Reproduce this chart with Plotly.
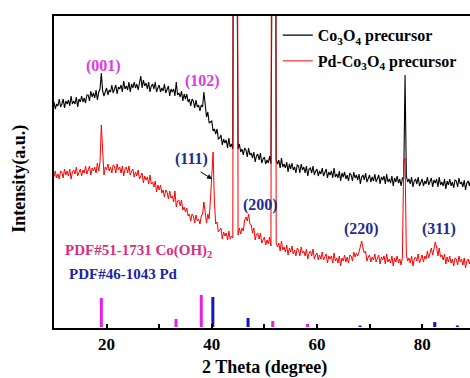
import numpy as np
import plotly.graph_objects as go

# 2-theta scan grid (deg), step 0.25
two_theta = np.round(np.arange(10.0, 90.001, 0.25), 2)

# Co3O4 precursor intensity (a.u.), read row by row (5 deg per row)
co3o4 = (
    [225,218,223,221,228,220,223,228,219,226,223,227,221,231,223,226,223,230,220,228] +
    [225,231,225,229,224,232,232,226,236,230,234,229,237,227,235,238,254,236,231,235] +
    [239,232,237,235,242,234,238,242,233,240,238,242,235,246,238,241,237,245,235,243] +
    [239,245,239,243,237,246,251,239,247,241,244,238,245,235,241,243,238,245,235,239] +
    [242,235,239,236,243,234,237,241,231,238,235,238,231,245,232,234,230,236,226,233] +
    [228,233,225,228,221,228,226,219,227,220,222,216,222,220,235,218,210,215,204,205] +
    [206,196,198,193,198,188,189,192,182,188,184,187,179,189,180,183,178,900,900,900] +
    [178,183,175,178,172,179,177,170,179,172,174,169,175,165,171,173,167,174,164,168] +
    [170,163,167,164,171,163,900,900,900,167,163,167,159,169,160,163,159,165,155,163] +
    [158,164,157,160,154,162,161,154,163,157,160,154,161,151,158,159,154,161,152,156] +
    [158,151,156,153,159,151,154,158,149,155,152,156,149,159,150,153,149,156,146,154] +
    [150,155,148,152,146,154,152,146,155,149,152,147,153,143,150,152,147,154,145,149] +
    [152,145,150,146,153,145,148,152,143,150,147,151,143,153,145,148,144,151,141,149] +
    [145,151,144,148,141,149,148,252,151,145,148,143,150,140,146,148,143,150,141,145] +
    [148,141,146,143,150,142,145,149,140,147,144,148,140,150,142,145,141,148,138,146] +
    [142,148,141,145,139,147,146,140,149,143,145,140,147,137,144,146,141,148,139,143] +
    [143]
)

# Pd-Co3O4 precursor intensity (a.u.)
pd_co3o4 = (
    [150,156,149,153,148,156,155,149,158,152,156,151,158,148,155,157,153,160,151,155] +
    [158,151,157,154,161,153,157,161,152,159,156,160,154,164,156,165,202,170,152,160] +
    [157,163,156,160,154,162,161,154,163,157,160,154,161,151,158,160,154,161,152,156] +
    [158,150,155,151,157,148,151,154,144,151,147,150,143,152,143,145,140,146,135,142] +
    [137,142,134,137,130,137,135,128,136,129,131,125,136,120,126,127,121,127,117,120] +
    [115,119,111,113,106,113,111,104,112,106,108,103,111,113,125,113,104,113,108,128] +
    [150,175,125,103,105,95,97,99,88,95,91,94,87,96,88,91,89,900,900,900] +
    [92,99,93,99,96,107,110,106,113,103,102,94,99,87,93,94,88,94,84,88] +
    [90,82,87,83,90,81,900,900,900,84,80,84,76,86,77,80,75,82,72,79] +
    [75,81,73,77,71,79,77,71,80,74,76,71,78,68,74,76,71,78,68,72] +
    [74,67,72,68,75,67,70,73,64,71,68,71,64,74,66,69,64,71,61,69] +
    [66,72,65,70,64,72,71,66,75,70,74,71,75,80,86,79,74,76,66,70] +
    [72,65,70,67,73,65,68,72,63,70,67,71,63,73,65,68,64,71,61,69] +
    [65,71,64,68,62,70,165,169,72,66,69,64,71,61,68,70,66,73,64,68] +
    [72,65,71,68,76,69,73,79,72,81,85,80,71,79,70,72,67,73,63,70] +
    [65,71,64,68,61,69,68,62,71,65,68,62,69,59,66,68,63,70,61,65] +
    [65]
)

# Reference patterns (stick positions / relative heights)
cooh2_pos = [19.0, 33.2, 38.0, 51.6, 58.2]
cooh2_int = [29, 8, 32, 6, 3]
pd_pos = [40.2, 46.9, 68.2, 82.4, 86.7]
pd_int = [30, 9, 1.5, 5, 1.5]

# Peak labels
hkl_labels = ["(001)", "(102)", "(111)", "(200)", "(220)", "(311)"]
hkl_x = [19.5, 38.3, 36.05, 49.2, 68.4, 83.2]
hkl_y = [261, 246, 168, 122, 98, 98]
hkl_colors = ["#e03ae0", "#e03ae0", "#1f2d8f", "#1f2d8f", "#1f2d8f", "#1f2d8f"]

assert len(co3o4) == len(two_theta) == len(pd_co3o4)

SERIF = "Liberation Serif"

def sticks(pos, h):
    xs, ys = [], []
    for p, v in zip(pos, h):
        xs += [p, p, None]
        ys += [0, v, None]
    return xs, ys

fig = go.Figure()
fig.add_trace(go.Scatter(
    x=two_theta, y=co3o4, mode="lines",
    line=dict(color="black", width=1.1),
    name="Co<sub>3</sub>O<sub>4</sub> precursor", legendgroup="a"))
fig.add_trace(go.Scatter(
    x=two_theta, y=pd_co3o4, mode="lines",
    line=dict(color="#ff0000", width=1),
    name="Pd-Co<sub>3</sub>O<sub>4</sub> precursor", legendgroup="b"))

sx, sy = sticks(cooh2_pos, cooh2_int)
fig.add_trace(go.Scatter(x=sx, y=sy, mode="lines",
                         line=dict(color="#e61ee6", width=3), showlegend=False))
sx, sy = sticks(pd_pos, pd_int)
fig.add_trace(go.Scatter(x=sx, y=sy, mode="lines",
                         line=dict(color="#1414c0", width=3), showlegend=False))

ann = []
for t, x, y, c in zip(hkl_labels, hkl_x, hkl_y, hkl_colors):
    ann.append(dict(x=x, y=y, xref="x", yref="y", text="<b>%s</b>" % t,
                    showarrow=False, font=dict(family=SERIF, size=16, color=c)))
# arrow to (111) peak
ann.append(dict(x=40.05, y=148, ax=37.6, ay=156, xref="x", yref="y",
                axref="x", ayref="y", text="", showarrow=True,
                arrowhead=2, arrowsize=1, arrowwidth=1, arrowcolor="black"))
ann.append(dict(x=11.7, y=76, xref="x", yref="y", xanchor="left",
                text="<b>PDF#51-1731 Co(OH)<sub>2</sub></b>", showarrow=False,
                font=dict(family=SERIF, size=15, color="#dd2c80")))
ann.append(dict(x=12.5, y=53, xref="x", yref="y", xanchor="left",
                text="<b>PDF#46-1043 Pd</b>", showarrow=False,
                font=dict(family=SERIF, size=15, color="#1a24a8")))
# axis titles
ann.append(dict(x=0.505, y=-0.126, xref="paper", yref="paper",
                xanchor="center", yanchor="middle",
                text="<b>2 Theta (degree)</b>", showarrow=False,
                font=dict(family=SERIF, size=18, color="black")))
ann.append(dict(x=-0.083, y=0.48, xref="paper", yref="paper", textangle=-90,
                xanchor="center", yanchor="middle",
                text="<b>Intensity(a.u.)</b>", showarrow=False,
                font=dict(family=SERIF, size=18, color="black")))

fig.update_layout(
    width=470, height=378,
    margin=dict(l=54, r=0, t=16, b=50, autoexpand=False),
    paper_bgcolor="white", plot_bgcolor="white",
    showlegend=True,
    legend=dict(x=0.538, y=0.993, xanchor="left", yanchor="top",
                bgcolor="rgba(0,0,0,0)", tracegroupgap=2,
                font=dict(family=SERIF, size=16, color="black", weight="bold")),
    annotations=ann,
)
fig.update_xaxes(
    range=[10, 89.1], showgrid=False, zeroline=False,
    showline=True, linecolor="black", linewidth=2, mirror=True,
    tickvals=[20, 40, 60, 80], ticks="inside", ticklen=4, tickwidth=2,
    tickcolor="black",
    minor=dict(dtick=10, tick0=10, ticks="inside", ticklen=4, tickwidth=2,
               tickcolor="black"),
    tickfont=dict(family=SERIF, size=17, color="black", weight="bold"),
)
fig.update_yaxes(
    range=[-1, 311], showgrid=False, zeroline=False,
    showline=True, linecolor="black", linewidth=2, mirror=False,
    showticklabels=False, ticks="",
)

fig.write_html("out.html", config={"displayModeBar": False},
               post_script="document.body.style.margin='0';document.body.style.padding='0';")
